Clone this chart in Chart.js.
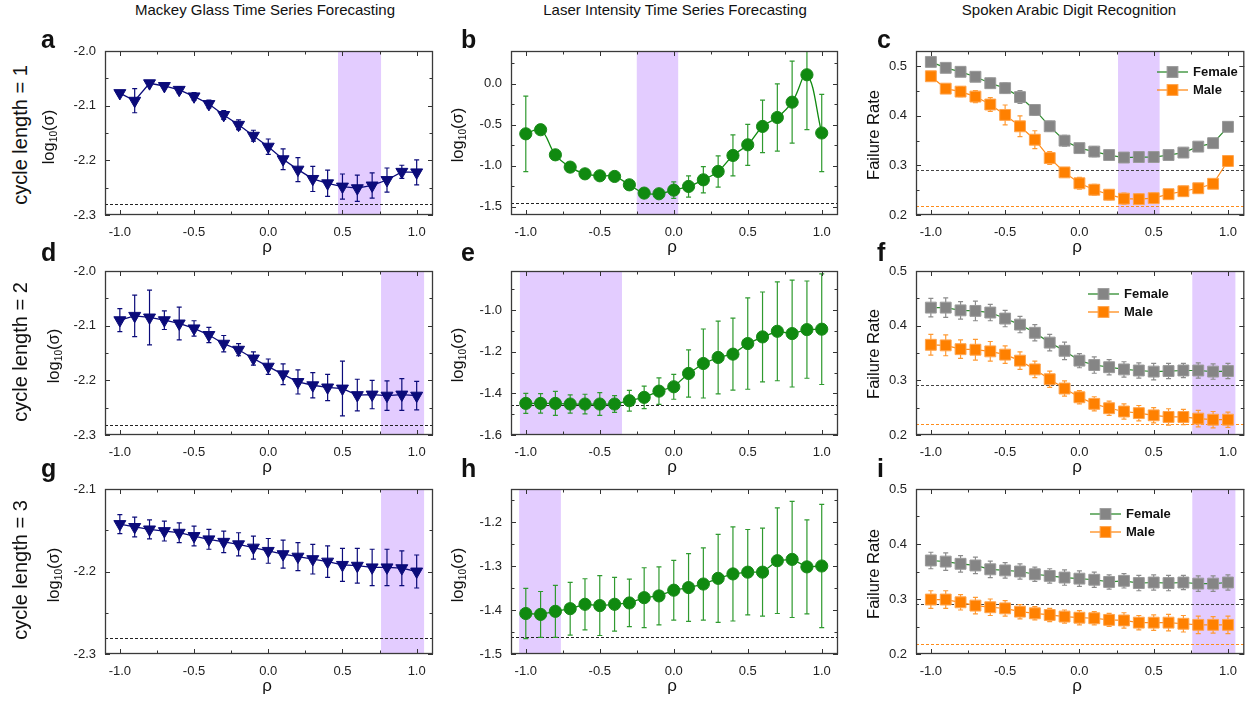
<!DOCTYPE html>
<html><head><meta charset="utf-8">
<script src="https://cdn.jsdelivr.net/npm/chart.js@4.4.0/dist/chart.umd.min.js"></script>
<style>
html,body{margin:0;padding:0;background:#fff;width:1249px;height:702px;overflow:hidden;position:relative;font-family:"Liberation Sans",Arial,sans-serif;}
canvas{position:absolute;}
.t{position:absolute;white-space:nowrap;color:#111;z-index:5;}
.t sub{font-size:0.62em;vertical-align:-0.3em;line-height:0;}
</style></head><body>
<script>
// ---------------- DATA ----------------
const rho = [-1.0,-0.9,-0.8,-0.7,-0.6,-0.5,-0.4,-0.3,-0.2,-0.1,0.0,0.1,0.2,0.3,0.4,0.5,0.6,0.7,0.8,0.9,1.0];
const xTickLabels = [-1.0,-0.5,0.0,0.5,1.0];
const xMinorTicks = [-0.75,-0.25,0.25,0.75];

const yTicksMG = [-2.3,-2.2,-2.1,-2.0];      const yMinorMG = [-2.25,-2.15,-2.05];
const yTicksMG3 = [-2.3,-2.2,-2.1];          const yMinorMG3 = [-2.25,-2.15];
const yTicksLaser1 = [-1.5,-1.0,-0.5,0.0];   const yMinorLaser1 = [-1.25,-0.75,-0.25,0.25];
const yTicksLaser2 = [-1.6,-1.4,-1.2,-1.0];  const yMinorLaser2 = [-1.5,-1.3,-1.1,-0.9];
const yTicksLaser3 = [-1.5,-1.4,-1.3,-1.2];  const yMinorLaser3 = [-1.45,-1.35,-1.25,-1.15];
const yTicksFR = [0.2,0.3,0.4,0.5];          const yMinorFR = [0.25,0.35,0.45];

const columnTitles = ["Mackey Glass Time Series Forecasting","Laser Intensity Time Series Forecasting","Spoken Arabic Digit Recognition"];
const rowTitles = ["cycle length = 1","cycle length = 2","cycle length = 3"];
const panelLetters = ["a","b","c","d","e","f","g","h","i"];
const seriesNames = ["Female","Male"];

// cycle length = 1
const mg1 = [-2.077,-2.091,-2.059,-2.064,-2.071,-2.083,-2.097,-2.117,-2.135,-2.155,-2.175,-2.198,-2.217,-2.234,-2.242,-2.248,-2.251,-2.246,-2.236,-2.221,-2.222];
const mg1Err = [0.004,0.022,0.005,0.004,0.006,0.007,0.007,0.008,0.009,0.010,0.014,0.019,0.022,0.023,0.024,0.023,0.024,0.023,0.022,0.012,0.023];
const laser1 = [-0.61,-0.56,-0.866,-1.016,-1.098,-1.122,-1.130,-1.232,-1.333,-1.341,-1.297,-1.252,-1.171,-1.069,-0.874,-0.744,-0.520,-0.411,-0.224,0.11,-0.60];
const laser1Err = [0.46,0.06,0.02,0.02,0.02,0.02,0.02,0.02,0.02,0.03,0.10,0.13,0.16,0.19,0.25,0.25,0.32,0.41,0.50,0.67,0.47];
const arabic1F = [0.509,0.497,0.489,0.479,0.466,0.456,0.438,0.412,0.379,0.350,0.335,0.328,0.321,0.316,0.317,0.317,0.321,0.326,0.338,0.345,0.378];
const arabic1FErr = [0.006,0.008,0.008,0.009,0.010,0.010,0.013,0.011,0.010,0.011,0.009,0.010,0.009,0.009,0.009,0.009,0.009,0.009,0.008,0.009,0.008];
const arabic1M = [0.480,0.455,0.449,0.439,0.423,0.402,0.379,0.352,0.315,0.286,0.264,0.251,0.241,0.233,0.232,0.234,0.242,0.248,0.254,0.263,0.309];
const arabic1MErr = [0.006,0.008,0.010,0.012,0.014,0.020,0.021,0.018,0.013,0.009,0.012,0.011,0.010,0.011,0.010,0.010,0.009,0.010,0.009,0.008,0.011];

// cycle length = 2
const mg2 = [-2.090,-2.082,-2.085,-2.090,-2.096,-2.105,-2.117,-2.133,-2.144,-2.160,-2.175,-2.189,-2.203,-2.209,-2.213,-2.215,-2.227,-2.226,-2.228,-2.226,-2.228];
const mg2Err = [0.021,0.038,0.050,0.017,0.030,0.014,0.014,0.015,0.011,0.012,0.014,0.019,0.022,0.023,0.024,0.050,0.029,0.026,0.027,0.029,0.026];
const laser2 = [-1.448,-1.448,-1.448,-1.451,-1.451,-1.451,-1.451,-1.435,-1.419,-1.389,-1.368,-1.304,-1.256,-1.227,-1.211,-1.160,-1.128,-1.101,-1.112,-1.093,-1.091];
const laser2Err = [0.048,0.047,0.058,0.044,0.047,0.055,0.040,0.050,0.054,0.064,0.060,0.114,0.166,0.175,0.173,0.220,0.216,0.238,0.257,0.234,0.266];
const arabic2F = [0.433,0.433,0.428,0.427,0.424,0.413,0.402,0.387,0.369,0.354,0.336,0.328,0.324,0.320,0.318,0.316,0.317,0.318,0.318,0.316,0.317];
const arabic2FErr = [0.017,0.018,0.016,0.018,0.015,0.015,0.015,0.015,0.015,0.016,0.013,0.015,0.014,0.014,0.014,0.015,0.014,0.013,0.014,0.014,0.014];
const arabic2M = [0.365,0.364,0.357,0.356,0.353,0.347,0.336,0.320,0.302,0.285,0.269,0.257,0.249,0.243,0.240,0.236,0.233,0.233,0.230,0.228,0.228];
const arabic2MErr = [0.019,0.019,0.017,0.019,0.018,0.016,0.016,0.015,0.015,0.014,0.012,0.013,0.013,0.014,0.014,0.014,0.015,0.014,0.015,0.015,0.014];

// cycle length = 3
const mg3 = [-2.1425,-2.146,-2.149,-2.151,-2.153,-2.157,-2.161,-2.164,-2.167,-2.171,-2.175,-2.179,-2.182,-2.185,-2.188,-2.192,-2.193,-2.195,-2.195,-2.196,-2.200];
const mg3Err = [0.0115,0.012,0.0115,0.012,0.012,0.012,0.012,0.013,0.014,0.014,0.015,0.017,0.017,0.018,0.019,0.020,0.021,0.022,0.022,0.021,0.020];
const laser3 = [-1.408,-1.410,-1.403,-1.397,-1.387,-1.390,-1.387,-1.384,-1.372,-1.368,-1.355,-1.349,-1.341,-1.328,-1.318,-1.314,-1.314,-1.288,-1.285,-1.302,-1.300];
const laser3Err = [0.057,0.052,0.059,0.060,0.058,0.068,0.061,0.054,0.068,0.066,0.068,0.077,0.082,0.100,0.107,0.097,0.100,0.120,0.132,0.107,0.140];
const arabic3F = [0.370,0.368,0.364,0.361,0.354,0.352,0.350,0.345,0.342,0.339,0.337,0.335,0.331,0.333,0.329,0.330,0.329,0.330,0.328,0.328,0.330];
const arabic3FErr = [0.015,0.016,0.015,0.015,0.015,0.014,0.014,0.013,0.013,0.014,0.014,0.014,0.013,0.013,0.014,0.014,0.014,0.013,0.014,0.014,0.014];
const arabic3M = [0.299,0.299,0.294,0.288,0.285,0.283,0.277,0.274,0.271,0.268,0.266,0.265,0.262,0.261,0.257,0.257,0.257,0.255,0.253,0.253,0.253];
const arabic3MErr = [0.016,0.016,0.014,0.015,0.015,0.014,0.013,0.012,0.012,0.012,0.013,0.012,0.012,0.014,0.013,0.014,0.015,0.015,0.016,0.015,0.016];

// shaded optimal-rho bands [from, to] and dashed reference levels
const bandA = [0.47,0.76], bandB = [-0.25,0.03], bandC = [0.26,0.54];
const bandD = [0.76,1.05], bandE = [-1.04,-0.35], bandF = [0.76,1.05];
const bandG = [0.76,1.05], bandH = [-1.045,-0.763], bandI = [0.76,1.05];
const refMG = [-2.280,-2.281,-2.281];
const refLaser = [-1.455,-1.458,-1.461];
const refFemale = [0.290,0.292,0.291];
const refMale = [0.218,0.220,0.218];

// ---------------- STYLE / LAYOUT ----------------
const FONT = '"Liberation Sans", Arial, sans-serif';
Chart.defaults.font.family = FONT;
const NAVY = '#0b0b7a', GREEN = '#108a10', GRAY = '#858585', ORANGE = '#ff8000';
const BAND = '#e3ccff';
const COLS = [{l:105,r:433},{l:511,r:838},{l:916,r:1245}];
const ROWS = [{t:51,b:215},{t:271,b:435},{t:489,b:654}];

function pts(vals){ return rho.map((x,i)=>({x:x, y:vals[i]})); }

function mgSet(vals, errs){
  return {data:pts(vals), errors:errs, errColor:NAVY, borderColor:NAVY, backgroundColor:NAVY,
    pointStyle:'triangle', pointRotation:180, pointRadius:6.9, pointBorderWidth:1, pointBorderColor:NAVY,
    borderWidth:1.3, tension:0};
}
function laserSet(vals, errs, tension){
  return {data:pts(vals), errors:errs, errColor:'#2f9a2f', borderColor:GREEN, backgroundColor:GREEN,
    pointStyle:'circle', pointRadius:6.1, pointBorderWidth:1, pointBorderColor:'#1a8a1a',
    borderWidth:1.3, tension:tension};
}
function femaleSet(vals, errs){
  return {label:seriesNames[0], data:pts(vals), errors:errs, errColor:'#8c8c8c', borderColor:'#2e8b2e', backgroundColor:GRAY,
    pointStyle:'rect', pointRadius:7.7, pointBorderWidth:1, pointBorderColor:'#9a9a9a',
    borderWidth:1.2, tension:0, markColor:GRAY, markBorder:'#9a9a9a'};
}
function maleSet(vals, errs){
  return {label:seriesNames[1], data:pts(vals), errors:errs, errColor:'#ff9a33', borderColor:'#ff8c1a', backgroundColor:ORANGE,
    pointStyle:'rect', pointRadius:7.7, pointBorderWidth:1, pointBorderColor:'#ffa44d',
    borderWidth:1.2, tension:0, markColor:ORANGE, markBorder:'#ffa44d'};
}

function makePlugin(cfg){
  return {
    id:'panelDeco',
    beforeDatasetsDraw(chart){
      const ctx = chart.ctx, a = chart.chartArea, x = chart.scales.x, y = chart.scales.y;
      ctx.save();
      ctx.beginPath(); ctx.rect(a.left, a.top, a.right-a.left, a.bottom-a.top); ctx.clip();
      const x0 = x.getPixelForValue(cfg.band[0]), x1 = x.getPixelForValue(cfg.band[1]);
      ctx.fillStyle = BAND; ctx.fillRect(x0, a.top, x1-x0, a.bottom-a.top);
      cfg.hlines.forEach(h=>{
        const yy = Math.round(y.getPixelForValue(h.v))+0.5;
        ctx.setLineDash([3,2]); ctx.strokeStyle = h.c; ctx.lineWidth = 1;
        ctx.beginPath(); ctx.moveTo(a.left,yy); ctx.lineTo(a.right,yy); ctx.stroke();
      });
      ctx.setLineDash([]);
      chart.data.datasets.forEach(ds=>{
        if(!ds.errors) return;
        ctx.strokeStyle = ds.errColor; ctx.lineWidth = 1.2;
        ds.data.forEach((p,i)=>{
          const e = ds.errors[i];
          const px = x.getPixelForValue(p.x);
          const yt = y.getPixelForValue(p.y+e), yb = y.getPixelForValue(p.y-e);
          ctx.beginPath();
          ctx.moveTo(px,yt); ctx.lineTo(px,yb);
          ctx.moveTo(px-2.5,yt); ctx.lineTo(px+2.5,yt);
          ctx.moveTo(px-2.5,yb); ctx.lineTo(px+2.5,yb);
          ctx.stroke();
        });
      });
      ctx.restore();
    },
    afterDraw(chart){
      const ctx = chart.ctx, a = chart.chartArea, x = chart.scales.x, y = chart.scales.y;
      ctx.save();
      ctx.strokeStyle = '#333'; ctx.lineWidth = 1;
      const seg = (x1,y1,x2,y2)=>{ctx.beginPath();ctx.moveTo(x1,y1);ctx.lineTo(x2,y2);ctx.stroke();};
      xTickLabels.forEach(v=>{const px=Math.round(x.getPixelForValue(v))+0.5; seg(px,a.bottom,px,a.bottom-5); seg(px,a.top,px,a.top+5);});
      xMinorTicks.forEach(v=>{const px=Math.round(x.getPixelForValue(v))+0.5; seg(px,a.bottom,px,a.bottom-3.5); seg(px,a.top,px,a.top+3.5);});
      cfg.yMajor.forEach(v=>{const py=Math.round(y.getPixelForValue(v))+0.5; seg(a.left,py,a.left+5,py); seg(a.right,py,a.right-5,py);});
      cfg.yMinor.forEach(v=>{const py=Math.round(y.getPixelForValue(v))+0.5; seg(a.left,py,a.left+3.5,py); seg(a.right,py,a.right-3.5,py);});
      ctx.strokeStyle = '#3a3a3a'; ctx.lineWidth = 1.3;
      ctx.strokeRect(a.left+0.5, a.top+0.5, a.right-a.left-1, a.bottom-a.top-1);
      if(cfg.legend){
        const [lx, ly] = cfg.legend;
        chart.data.datasets.forEach((ds,k)=>{
          const yy = a.top + ly + k*18, x0 = a.left + lx;
          ctx.strokeStyle = ds.borderColor; ctx.lineWidth = 1.3;
          seg(x0, yy, x0+31, yy);
          ctx.fillStyle = ds.markColor; ctx.strokeStyle = ds.markBorder; ctx.lineWidth = 1;
          ctx.fillRect(x0+15.5-5.4, yy-5.4, 10.8, 10.8); ctx.strokeRect(x0+15.5-5.4, yy-5.4, 10.8, 10.8);
          ctx.fillStyle = '#111'; ctx.font = 'bold 13px '+FONT; ctx.textBaseline = 'middle'; ctx.textAlign = 'left';
          ctx.fillText(ds.label, x0+36, yy+0.5);
        });
      }
      ctx.restore();
    }
  };
}

function makePanel(ci, ri, cfg){
  const col = COLS[ci], row = ROWS[ri];
  const padL = 60, padT = 25, padR = 8, padB = 40;
  const W = col.r-col.l+padL+padR, H = row.b-row.t+padT+padB;
  const cv = document.createElement('canvas');
  cv.width = W; cv.height = H;
  cv.style.left = (col.l-padL)+'px'; cv.style.top = (row.t-padT)+'px';
  cv.style.width = W+'px'; cv.style.height = H+'px';
  document.body.appendChild(cv);
  new Chart(cv.getContext('2d'), {
    type:'line',
    data:{datasets:cfg.datasets},
    options:{
      animation:false, responsive:false, maintainAspectRatio:false, devicePixelRatio:1,
      layout:{padding:{left:0,right:padR,top:padT,bottom:0}},
      plugins:{legend:{display:false}, tooltip:{enabled:false}},
      scales:{
        x:{type:'linear', min:-1.1, max:1.11,
           grid:{display:false, drawTicks:false}, border:{display:false},
           afterBuildTicks:s=>{s.ticks = xTickLabels.map(v=>({value:v}));},
           afterFit:s=>{s.height = padB;},
           ticks:{padding:10, color:'#222', font:{size:13, family:FONT}, callback:v=>Number(v).toFixed(1)}},
        y:{type:'linear', min:cfg.yMin, max:cfg.yMax,
           grid:{display:false, drawTicks:false}, border:{display:false},
           afterBuildTicks:s=>{s.ticks = cfg.yMajor.map(v=>({value:v}));},
           afterFit:s=>{s.width = padL;},
           ticks:{padding:9, color:'#222', font:{size:13, family:FONT}, callback:v=>Number(v).toFixed(1)}}
      }
    },
    plugins:[makePlugin(cfg)]
  });
}

function refLines(i, col){
  if(col===0) return [{v:refMG[i], c:'#222'}];
  if(col===1) return [{v:refLaser[i], c:'#222'}];
  return [{v:refFemale[i], c:'#444'},{v:refMale[i], c:'#ff8c1a'}];
}

// row 1
makePanel(0,0,{yMin:-2.3,yMax:-2.0,yMajor:yTicksMG,yMinor:yMinorMG,band:bandA,hlines:refLines(0,0),datasets:[mgSet(mg1,mg1Err)]});
makePanel(1,0,{yMin:-1.6,yMax:0.4,yMajor:yTicksLaser1,yMinor:yMinorLaser1,band:bandB,hlines:refLines(0,1),datasets:[laserSet(laser1,laser1Err,0.4)]});
makePanel(2,0,{yMin:0.2,yMax:0.531,yMajor:yTicksFR,yMinor:yMinorFR,band:bandC,hlines:refLines(0,2),legend:[241,21],datasets:[femaleSet(arabic1F,arabic1FErr),maleSet(arabic1M,arabic1MErr)]});
// row 2
makePanel(0,1,{yMin:-2.3,yMax:-2.0,yMajor:yTicksMG,yMinor:yMinorMG,band:bandD,hlines:refLines(1,0),datasets:[mgSet(mg2,mg2Err)]});
makePanel(1,1,{yMin:-1.6,yMax:-0.811,yMajor:yTicksLaser2,yMinor:yMinorLaser2,band:bandE,hlines:refLines(1,1),datasets:[laserSet(laser2,laser2Err,0)]});
makePanel(2,1,{yMin:0.2,yMax:0.5,yMajor:yTicksFR,yMinor:yMinorFR,band:bandF,hlines:refLines(1,2),legend:[172,23],datasets:[femaleSet(arabic2F,arabic2FErr),maleSet(arabic2M,arabic2MErr)]});
// row 3
makePanel(0,2,{yMin:-2.3,yMax:-2.1,yMajor:yTicksMG3,yMinor:yMinorMG3,band:bandG,hlines:refLines(2,0),datasets:[mgSet(mg3,mg3Err)]});
makePanel(1,2,{yMin:-1.5,yMax:-1.125,yMajor:yTicksLaser3,yMinor:yMinorLaser3,band:bandH,hlines:refLines(2,1),datasets:[laserSet(laser3,laser3Err,0)]});
makePanel(2,2,{yMin:0.2,yMax:0.5,yMajor:yTicksFR,yMinor:yMinorFR,band:bandI,hlines:refLines(2,2),legend:[174,25],datasets:[femaleSet(arabic3F,arabic3FErr),maleSet(arabic3M,arabic3MErr)]});

// ---------------- TEXT ----------------
function addText(html, o){
  const d = document.createElement('div'); d.className = 't'; d.innerHTML = html;
  const fs = o.size; const lh = fs*1.2;
  d.style.fontSize = fs+'px'; d.style.lineHeight = lh+'px';
  if(o.bold) d.style.fontWeight = 'bold';
  if(o.rot){
    d.style.left = (o.cx - 0.087*fs)+'px'; d.style.top = o.cy+'px';
    d.style.transform = 'translate(-50%,-50%) rotate(-90deg)';
  } else {
    d.style.top = (o.base - lh/2 - 0.3465*fs)+'px';
    if(o.cx!==undefined){ d.style.left = o.cx+'px'; d.style.transform = 'translateX(-50%)'; }
    else d.style.left = o.left+'px';
  }
  document.body.appendChild(d);
}
const titleX = [265, 675, 1069];
columnTitles.forEach((t,i)=>addText(t,{size:15, cx:titleX[i], base:15}));
const rowCy = [135, 352, 570];
rowTitles.forEach((t,i)=>addText(t,{size:20, rot:true, cx:22, cy:rowCy[i]}));
const letterLeft = [41, 461, 877], letterBase = [48, 261, 477];
panelLetters.forEach((t,k)=>addText(t,{size:25, bold:true, left:letterLeft[k%3], base:letterBase[Math.floor(k/3)]}));
const rhoX = [267, 672, 1077];
ROWS.forEach(r=>rhoX.forEach(cx=>addText('ρ',{size:17, cx:cx, base:r.b+38})));
const logX = [[50.5,459],[55.5,459],[55,459]], yTitleCy = [[137,135,135],[356,355,354],[575,575,574]];
for(let r=0;r<3;r++){
  addText('log<sub>10</sub>(σ)',{size:16.5, rot:true, cx:logX[r][0], cy:yTitleCy[r][0]});
  addText('log<sub>10</sub>(σ)',{size:16.5, rot:true, cx:logX[r][1], cy:yTitleCy[r][1]});
  addText('Failure Rate',{size:16.5, rot:true, cx:875, cy:yTitleCy[r][2]});
}
</script>
</body></html>
